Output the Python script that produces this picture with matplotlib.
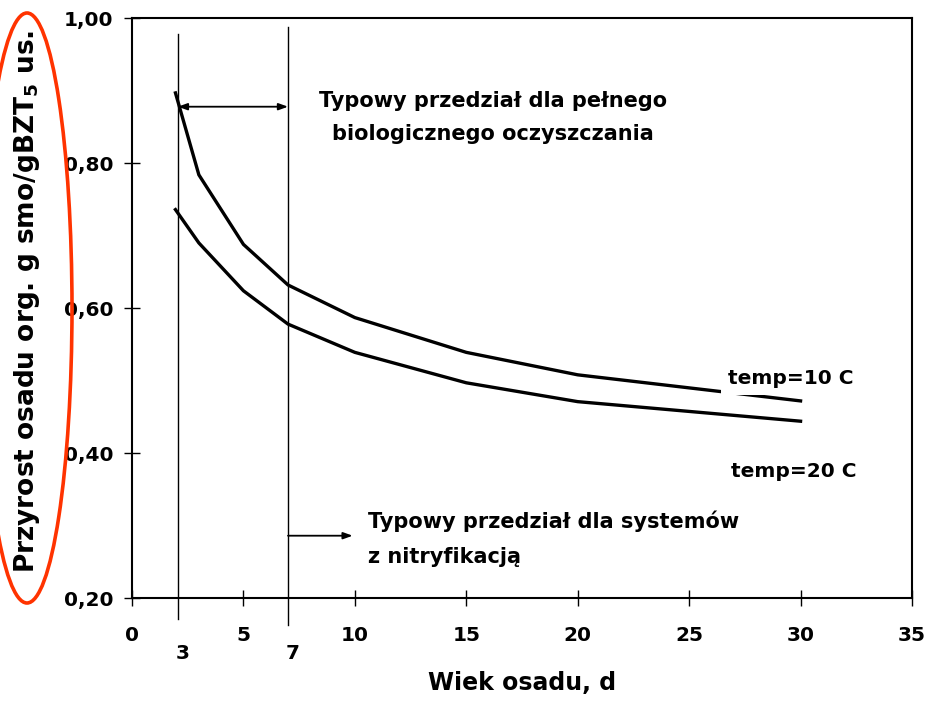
import matplotlib
matplotlib.use("Agg")
import matplotlib.pyplot as plt
from matplotlib.patches import Ellipse

# sludge age (d) and net sludge yield
sludge_age = [1.95, 3, 5, 7, 10, 15, 20, 30]
yield_10C = [0.897, 0.784, 0.688, 0.632, 0.587, 0.539, 0.508, 0.472]
yield_20C = [0.736, 0.690, 0.624, 0.578, 0.539, 0.497, 0.471, 0.444]

x_ticks = [0, 5, 10, 15, 20, 25, 30, 35]
y_ticks = [0.20, 0.40, 0.60, 0.80, 1.00]
y_tick_labels = ["0,20", "0,40", "0,60", "0,80", "1,00"]

# typical ranges marked with vertical lines
range_lines = [2.06, 7]
range_labels = ["3", "7"]
range_tops = [0.979, 0.988]
range_bottoms = [0.171, 0.163]

plt.rcParams["font.family"] = "DejaVu Sans"
plt.rcParams["font.weight"] = "bold"
plt.rcParams["mathtext.default"] = "bf"

fig = plt.figure(figsize=(9.27, 7.01), dpi=100)
ax = fig.add_axes([0.1424, 0.1469, 0.8414, 0.827])

ax.plot(sludge_age, yield_10C, color="black", lw=2.4, solid_joinstyle="miter", zorder=3)
ax.plot(sludge_age, yield_20C, color="black", lw=2.4, solid_joinstyle="miter", zorder=3)

for xv, lab, top, bot in zip(range_lines, range_labels, range_tops, range_bottoms):
    ax.plot([xv, xv], [bot, top], color="black", lw=1.0, clip_on=False, zorder=2)
    ax.text(xv + 0.2, 0.1235, lab, ha="center", va="center", fontsize=14.5,
            fontweight="bold", clip_on=False)

# double arrow between the two range lines
ax.annotate("", xy=(range_lines[0], 0.878), xytext=(range_lines[1], 0.878),
            arrowprops=dict(arrowstyle="<|-|>,head_length=0.55,head_width=0.2",
                            color="black", lw=1.3, shrinkA=0, shrinkB=0))
# single arrow for the nitrification range
ax.annotate("", xy=(9.9, 0.286), xytext=(range_lines[1], 0.286),
            arrowprops=dict(arrowstyle="-|>,head_length=0.55,head_width=0.2",
                            color="black", lw=1.3, shrinkA=0, shrinkB=0))

ax.text(16.2, 0.886, "Typowy przedział dla pełnego", ha="center", va="center",
        fontsize=15, fontweight="bold")
ax.text(16.2, 0.841, "biologicznego oczyszczania", ha="center", va="center",
        fontsize=15, fontweight="bold")
ax.text(10.6, 0.3066, "Typowy przedział dla systemów", ha="left", va="center",
        fontsize=15, fontweight="bold")
ax.text(10.6, 0.256, "z nitryfikacją", ha="left", va="center",
        fontsize=15, fontweight="bold")

ax.text(29.55, 0.5025, "temp=10 C", ha="center", va="center", fontsize=14.5,
        fontweight="bold", zorder=4,
        bbox=dict(facecolor="white", edgecolor="none", pad=5))
ax.text(29.7, 0.3746, "temp=20 C", ha="center", va="center", fontsize=14.5,
        fontweight="bold", zorder=4)

ax.set_xlim(0, 35)
ax.set_ylim(0.20, 1.00)
ax.set_xticks(x_ticks)
ax.set_yticks(y_ticks)
ax.set_yticklabels(y_tick_labels)
ax.tick_params(direction="inout", length=11, width=1.0, labelsize=14.5, colors="black")
ax.tick_params(axis="x", pad=15)
ax.tick_params(axis="y", pad=8)
for lbl in ax.get_xticklabels() + ax.get_yticklabels():
    lbl.set_fontweight("bold")
for sp in ax.spines.values():
    sp.set_linewidth(1.5)

ax.set_xlabel("Wiek osadu, d", fontsize=17, fontweight="bold")
ax.xaxis.label.set_va("center")
ax.xaxis.set_label_coords(0.5, -0.147)
ax.set_ylabel("Przyrost osadu org. g smo/gBZT$_5$ us.", fontsize=19, fontweight="bold")
ax.yaxis.label.set_va("center")
ax.yaxis.set_label_coords(-0.135, 0.512)

# red ellipse drawn around the y axis title
ell = Ellipse((27 / 927, 1 - 308 / 701), 90 / 927, 590 / 701, transform=fig.transFigure,
              fill=False, edgecolor="#ff3300", lw=2.6)
fig.patches.append(ell)

fig.savefig("out.png", dpi=100)
